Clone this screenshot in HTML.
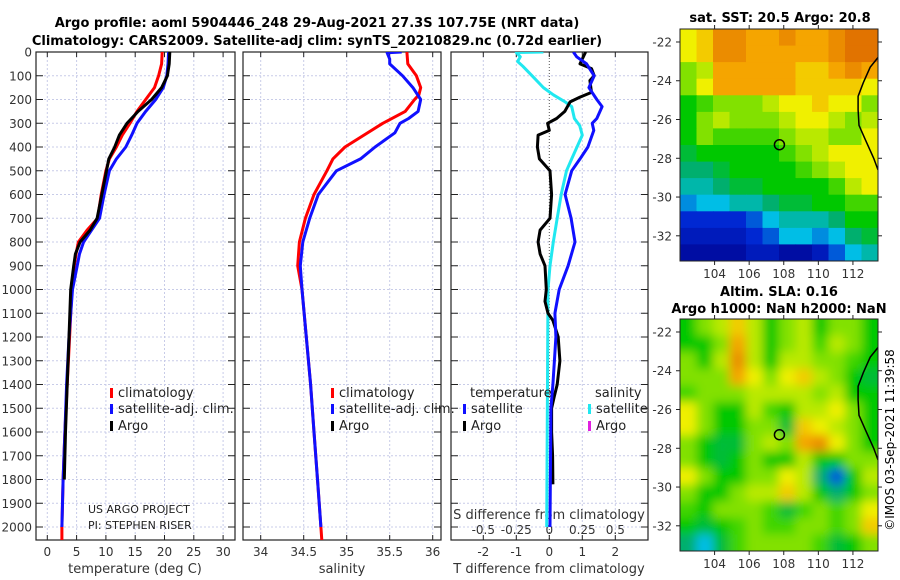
<!DOCTYPE html>
<html><head><meta charset="utf-8">
<style>
html,body{margin:0;padding:0;background:#fff;}
svg{display:block;font-family:"DejaVu Sans","Liberation Sans",sans-serif;}
</style></head>
<body>
<svg id="fig" width="900" height="580" viewBox="0 0 900 580" xmlns="http://www.w3.org/2000/svg">
<defs>
<filter id="blur" x="-10%" y="-10%" width="120%" height="120%"><feGaussianBlur stdDeviation="5"/></filter>
<clipPath id="clipSST"><rect x="680" y="29" width="198" height="232"/></clipPath>
<clipPath id="clipSLA"><rect x="680" y="319" width="198" height="232"/></clipPath>
<clipPath id="clipP1"><rect x="36" y="52" width="199" height="488"/></clipPath>
<clipPath id="clipP2"><rect x="243" y="52" width="198" height="488"/></clipPath>
<clipPath id="clipP3"><rect x="451" y="52" width="197" height="488"/></clipPath>
</defs>
<text x="317" y="27" text-anchor="middle" font-size="13" font-weight="bold">Argo profile: aoml 5904446_248 29-Aug-2021 27.3S 107.75E (NRT data)</text>
<text x="317" y="45" text-anchor="middle" font-size="13" font-weight="bold">Climatology: CARS2009. Satellite-adj clim: synTS_20210829.nc (0.72d earlier)</text>
<text x="780" y="22" text-anchor="middle" font-size="13" font-weight="bold">sat. SST: 20.5 Argo: 20.8</text>
<text x="779" y="296" text-anchor="middle" font-size="13" font-weight="bold">Altim. SLA: 0.16</text>
<text x="779" y="313" text-anchor="middle" font-size="13" font-weight="bold">Argo h1000: NaN h2000: NaN</text>
<text transform="translate(894,440) rotate(-90)" text-anchor="middle" font-size="12">©IMOS 03-Sep-2021 11:39:58</text>
<g id="layer"></g>
</svg>
<script>
// ---------- data ----------
const depthTicks = [0,100,200,300,400,500,600,700,800,900,1000,1100,1200,1300,1400,1500,1600,1700,1800,1900,2000];
const tempTicks = [0,5,10,15,20,25,30];
const salTicks = [34,34.5,35,35.5,36];
const tdiffTicks = [-2,-1,0,1,2];
const sdiffTickLabels = ['-0.5','-0.25','0','0.25','0.5'];
const sdiffTickVals = [-0.5,-0.25,0,0.25,0.5];

const tClimD = [0,50,100,150,200,250,300,350,400,450,500,600,700,750,800,850,900,1000,1200,1400,1600,1800,2000,2055];
const tClimV = [19.6,19.5,19.0,18.3,16.8,15.3,14.1,12.8,11.8,10.6,10.0,9.2,8.6,6.8,5.3,4.9,4.6,4.2,3.8,3.4,3.0,2.7,2.5,2.5];
const tSatD = [0,50,100,150,200,250,300,350,400,450,500,600,700,800,850,900,1000,1200,1400,1600,1800,2000];
const tSatV = [20.7,20.6,20.4,19.8,18.5,16.8,15.3,14.4,13.4,11.8,10.6,9.7,8.9,6.2,5.5,5.1,4.3,3.7,3.3,3.0,2.7,2.5];
const tArgoD = [0,50,100,150,200,250,300,350,400,450,500,600,700,750,800,850,900,1000,1200,1400,1600,1800];
const tArgoV = [20.9,20.8,20.5,19.5,17.8,15.5,13.6,12.3,11.5,10.5,10.1,9.3,8.5,7.3,5.6,4.8,4.5,4.0,3.7,3.4,3.1,2.9];

const sClimD = [0,50,100,150,180,200,250,300,400,450,500,600,700,800,900,1000,1200,1400,1600,1800,2000,2055];
const sClimV = [35.70,35.71,35.81,35.86,35.84,35.79,35.68,35.42,34.98,34.84,34.77,34.62,34.52,34.45,34.43,34.48,34.53,34.58,34.62,34.66,34.70,34.71];
const sSatD = [0,3,30,50,100,150,200,250,280,300,340,400,450,500,600,700,800,900,1000,1200,1400,1600,1800,2000];
const sSatV = [35.64,35.47,35.50,35.50,35.65,35.77,35.86,35.83,35.72,35.62,35.56,35.33,35.16,34.88,34.67,34.57,34.49,34.46,34.48,34.53,34.58,34.62,34.66,34.70];

const dTSatD = [0,20,50,100,150,200,230,280,300,330,400,450,500,600,700,800,900,1000,1100,1200,1400,1500,2000];
const dTSatV = [0.73,0.83,1.13,1.36,1.2,1.44,1.6,1.44,1.3,1.35,1.17,0.93,0.68,0.48,0.66,0.78,0.57,0.3,0.17,0.2,0.11,0.05,0.02];
const dTArgoD = [0,50,70,100,120,170,190,210,250,280,300,330,350,400,450,500,600,700,750,800,850,900,1000,1050,1100,1130,1200,1300,1400,1450,1500,1600,1700,1820];
const dTArgoV = [1.1,0.93,1.28,1.36,1.23,1.28,0.93,0.63,0.47,0.22,-0.05,0,-0.34,-0.36,-0.3,0.02,0.07,0.02,-0.28,-0.34,-0.28,-0.13,-0.09,-0.13,-0.04,0.11,0.27,0.32,0.24,0.15,0.07,0.07,0.1,0.11];
const dSSatD = [0,2,20,40,60,100,150,180,210,230,280,310,350,400,450,500,600,700,800,900,1000,2000];
const dSSatV = [-0.045,-0.25,-0.22,-0.24,-0.2,-0.13,-0.045,0.03,0.12,0.17,0.19,0.23,0.25,0.21,0.17,0.13,0.09,0.06,0.03,0.005,-0.01,-0.02];

// map data (colour index 0..10), rows top (north) to bottom (south)
const sstGrid = [
[7,7.5,8.5,8.5,8,8,8.5,8,8,8.5,9,9],
[7,7.5,8.5,8.5,8,8,8,8,8,8.5,9,9],
[6,6.5,8,8,8,8,8,7.5,7.5,8,8.5,8],
[6,7,8,8,8,8,8,7.5,7.5,7.5,7.5,7],
[5,5.5,6,6,6,6.5,7,7,7.5,7,7,6],
[5,6,6.5,6,6,6,6.5,7,7,6.5,6,6.5],
[5,6,5.5,5.5,5.5,5.5,6,6.5,6.5,6,6,7],
[4.5,5,5,5,5,5,5.5,6,6.5,7,7,7],
[4,4,4.5,5,5,5,5,5.5,6,6.5,7,7],
[3.5,3.5,4,4.5,4.5,5,5,5,5,5.5,6.5,7],
[2.5,3,3,3.5,3.5,4,4.5,4.5,5,5,5.5,5.5],
[1.5,1.5,1.5,1.5,2,3,3.5,3.5,3.5,4,5,5],
[1,1,1,1,1.5,2,3,3,2.5,3,4,4.5],
[0.5,0.5,0.5,0.5,1,1,0.5,0.5,1,2,3,3.5]];
const slaGrid = [
[5,6,6.5,7.5,6.5,5,6,6.5,5,6,6,5],
[5,5,6,8,6.5,5,6,6.5,5.5,6.5,6,5],
[6,5,6.5,8.5,6.5,5,6.5,6.5,6,6,5.5,5],
[6,6,6,8,7,6,7,7.5,6.5,6,5,4.5],
[5.5,6,6,6,6.5,6.5,6.5,6.5,6,6.5,5,5],
[7,6,5,5,6.5,5.5,5,6.5,6.5,7,6,5],
[7,6,5,5,6,6,4.5,7.5,7,6.5,6,5],
[6,5,4.5,4.5,6,6.5,6,8,8.5,7,6,5],
[6,5,4.5,5,6,5,5,6.5,5,5,6,6],
[7,6,5,5,6,6,7,6.5,4,2,5,6.5],
[6,5,5,6,6.5,6.5,7.5,6.5,5,4,5,6],
[5.5,5,6,6,6,5.5,4.5,5.5,6,5.5,6,7],
[5,4.5,5,5.5,6,5.5,5.5,6,6,5.5,6,7.5],
[4,3,4.5,5.5,6,6,6,6,5.5,4.5,5,6]];
const latTicks = [-22,-24,-26,-28,-30,-32];
const lonTicks = [104,106,108,110,112];
const argoLon = 107.75, argoLat = -27.3;
const coastLon = [113.45,113.0,112.6,112.3,112.3,112.35,112.7,113.2,113.45];
const coastLat = [-22.8,-23.3,-24.1,-24.8,-25.5,-26.3,-27.0,-28.0,-28.6];

// ---------- helpers ----------
const NS='http://www.w3.org/2000/svg';
const layer=document.getElementById('layer');
function mk(tag,attrs,parent){const e=document.createElementNS(NS,tag);for(const k in attrs)e.setAttribute(k,attrs[k]);(parent||layer).appendChild(e);return e;}
const y0=52, pxPer100=23.75, yBot=540;
function yD(d){return y0+d/100*pxPer100;}
const panels=[
 {x0:36,x1:235,ax:v=>47.3+v*5.86,ticks:tempTicks,labels:tempTicks.map(String),name:'temperature',clip:'clipP1'},
 {x0:243,x1:441,ax:v=>260.7+(v-34)*86,ticks:salTicks,labels:salTicks.map(String),name:'salinity',clip:'clipP2'},
 {x0:451,x1:648,ax:v=>549.3+v*33,ticks:tdiffTicks,labels:tdiffTicks.map(String),name:'difference',clip:'clipP3'}];
const sAx=v=>549.3+v*132;

panels.forEach((p,pi)=>{
  const g=mk('g',{});
  
  
  depthTicks.forEach(d=>{const l=mk('line',{x1:p.x0,x2:p.x1,y1:yD(d),y2:yD(d),stroke:'#c8cce8','stroke-width':1,'stroke-dasharray':'2,2'},g);
    
    });
  p.ticks.forEach((t,i)=>{const x=p.ax(t);
    const l=mk('line',{x1:x,x2:x,y1:y0,y2:yBot,stroke:(pi==2&&t==0)?'#555':'#c8cce8','stroke-width':1,'stroke-dasharray':(pi==2&&t==0)?'1,2':'2,2'},g);
    
    
    const tl=mk('text',{x:x,y:556,'text-anchor':'middle','font-size':12,fill:'#333'},g);tl.textContent=p.labels[i];
    
    
    mk('line',{x1:x,x2:x,y1:yBot,y2:yBot-5,stroke:'#222'},g);mk('line',{x1:x,x2:x,y1:y0,y2:y0+5,stroke:'#222'},g);});
  depthTicks.forEach(d=>{mk('line',{x1:p.x0,x2:p.x0+7,y1:yD(d),y2:yD(d),stroke:'#222'},g);mk('line',{x1:p.x1,x2:p.x1-7,y1:yD(d),y2:yD(d),stroke:'#222'},g);});
  const fr=mk('rect',{x:p.x0,y:y0,width:p.x1-p.x0,height:yBot-y0,fill:'none',stroke:'#222','stroke-width':1.2},g);
  
  
});
depthTicks.forEach(d=>{const t=mk('text',{x:32,y:yD(d)+4.5,'text-anchor':'end','font-size':12,fill:'#333'});t.textContent=String(d);
  
  });
[[135,'temperature (deg C)'],[342,'salinity'],[549,'T difference from climatology']].forEach(a=>{const t=mk('text',{x:a[0],y:573,'text-anchor':'middle','font-size':13,fill:'#333'});t.textContent=a[1];
  
  });
const st=mk('text',{x:549,y:519,'text-anchor':'middle','font-size':13,fill:'#333'});st.textContent='S difference from climatology';


sdiffTickVals.forEach((v,i)=>{const t=mk('text',{x:sAx(v),y:534,'text-anchor':'middle','font-size':12,fill:'#333'});t.textContent=sdiffTickLabels[i];
  
  });

function line(ds,vs,ax,color,clip,name){
  const pts=ds.map((d,i)=>ax(vs[i]).toFixed(1)+','+yD(d).toFixed(1)).join(' ');
  const e=mk('polyline',{points:pts,fill:'none',stroke:color,'stroke-width':3,'stroke-linejoin':'round','clip-path':'url(#'+clip+')'});
  
  
}
line(tClimD,tClimV,panels[0].ax,'#ff0000','clipP1','temp-climatology-line');
line(tSatD,tSatV,panels[0].ax,'#1010ff','clipP1','temp-satellite-line');
line(tArgoD,tArgoV,panels[0].ax,'#000','clipP1','temp-argo-line');
line(sClimD,sClimV,panels[1].ax,'#ff0000','clipP2','sal-climatology-line');
line(sSatD,sSatV,panels[1].ax,'#1010ff','clipP2','sal-satellite-line');
line(dSSatD,dSSatV,sAx,'#20e8f0','clipP3','sdiff-satellite-line');
line(dTArgoD,dTArgoV,panels[2].ax,'#000','clipP3','tdiff-argo-line');
line(dTSatD,dTSatV,panels[2].ax,'#1010ff','clipP3','tdiff-satellite-line');

function legend(x,y,color,label,name){
  const m=mk('rect',{x:x,y:y-9,width:3,height:10,fill:color});
  
  
  const t=mk('text',{x:x+8,y:y,'font-size':13,fill:'#222'});t.textContent=label;
  
  
}
legend(110,397,'#ff0000','climatology','legend-temp-climatology');
legend(110,413,'#1010ff','satellite-adj. clim.','legend-temp-satellite');
legend(110,430,'#000','Argo','legend-temp-argo');
legend(331,397,'#ff0000','climatology','legend-sal-climatology');
legend(331,413,'#1010ff','satellite-adj. clim.','legend-sal-satellite');
legend(331,430,'#000','Argo','legend-sal-argo');
legend(463,413,'#1010ff','satellite','legend-tdiff-satellite');
legend(463,430,'#000','Argo','legend-tdiff-argo');
legend(588,413,'#20e8f0','satellite','legend-sdiff-satellite');
legend(588,430,'#e020e0','Argo','legend-sdiff-argo');
[[470,'temperature'],[595,'salinity']].forEach(a=>{const t=mk('text',{x:a[0],y:397,'font-size':13,fill:'#222'});t.textContent=a[1];
  
  });
[[88,513,'US ARGO PROJECT'],[88,529,'PI: STEPHEN RISER']].forEach(a=>{const t=mk('text',{x:a[0],y:a[1],'font-size':11,fill:'#222'});t.textContent=a[2];
  
  });

// ---------- maps ----------
const stops=[[0,[0,0,140]],[1.5,[0,40,210]],[3,[0,190,230]],[4,[0,175,110]],[5,[0,200,0]],[6,[130,225,0]],[7,[240,240,0]],[8,[245,165,0]],[9,[225,115,0]],[10,[190,80,0]]];
function cmap(v){for(let i=1;i<stops.length;i++){if(v<=stops[i][0]){const a=stops[i-1],b=stops[i],t=(v-a[0])/(b[0]-a[0]);return 'rgb('+a[1].map((c,k)=>Math.round(c+(b[1][k]-c)*t)).join(',')+')';}}return 'rgb(190,80,0)';}
function drawMap(grid,top,clip,name,smooth){
  const lonMin=102.0,lonMax=113.45,latTop=-21.33,latBot=-33.3;
  const X=lon=>680+(lon-lonMin)/(lonMax-lonMin)*198;
  const Y=lat=>top+(latTop-lat)/(latTop-latBot)*232;
  const g=mk('g',{'clip-path':'url(#'+clip+')'});
  
  
  const gi=mk('g',smooth?{filter:'url(#blur)'}:{},g);
  const nr=grid.length,nc=grid[0].length,cw=198/nc,ch=232/nr;
  if(smooth){const bg=mk('rect',{x:660,y:top-20,width:240,height:272,fill:cmap(5.5)},gi);
    
    }
  grid.forEach((row,r)=>row.forEach((v,c)=>{
    let x=680+c*cw, y=top+r*ch, w=cw+0.6, h=ch+0.6;
    if(smooth){ if(c==0){x-=15;w+=15;} if(c==nc-1){w+=15;} if(r==0){y-=15;h+=15;} if(r==nr-1){h+=15;} }
    const e=mk('rect',{x:x.toFixed(1),y:y.toFixed(1),width:w.toFixed(1),height:h.toFixed(1),fill:cmap(v)},gi);
    
    }));
  const cl=mk('polyline',{points:coastLon.map((lo,i)=>X(lo).toFixed(1)+','+Y(coastLat[i]).toFixed(1)).join(' '),fill:'none',stroke:'#000','stroke-width':1.5},g);
  
  
  const ci=mk('circle',{cx:X(argoLon),cy:Y(argoLat),r:5,fill:'none',stroke:'#000','stroke-width':1.5},g);
  
  
  const fr=mk('rect',{x:680,y:top,width:198,height:232,fill:'none',stroke:'#222'});
  
  
  latTicks.forEach(l=>{const y=Y(l);mk('line',{x1:680,x2:676,y1:y,y2:y,stroke:'#222'});mk('line',{x1:878,x2:882,y1:y,y2:y,stroke:'#222'});
    const t=mk('text',{x:672,y:y+4.5,'text-anchor':'end','font-size':12,fill:'#333'});t.textContent=String(l);
    
    });
  lonTicks.forEach(l=>{const x=X(l);mk('line',{x1:x,x2:x,y1:top+232,y2:top+236,stroke:'#222'});mk('line',{x1:x,x2:x,y1:top,y2:top-4,stroke:'#222'});
    const t=mk('text',{x:x,y:top+249,'text-anchor':'middle','font-size':12,fill:'#333'});t.textContent=String(l);
    
    });
}
drawMap(sstGrid,29,'clipSST','sst-map',false);
drawMap(slaGrid,319,'clipSLA','sla-map',true);
</script>
</body></html>
